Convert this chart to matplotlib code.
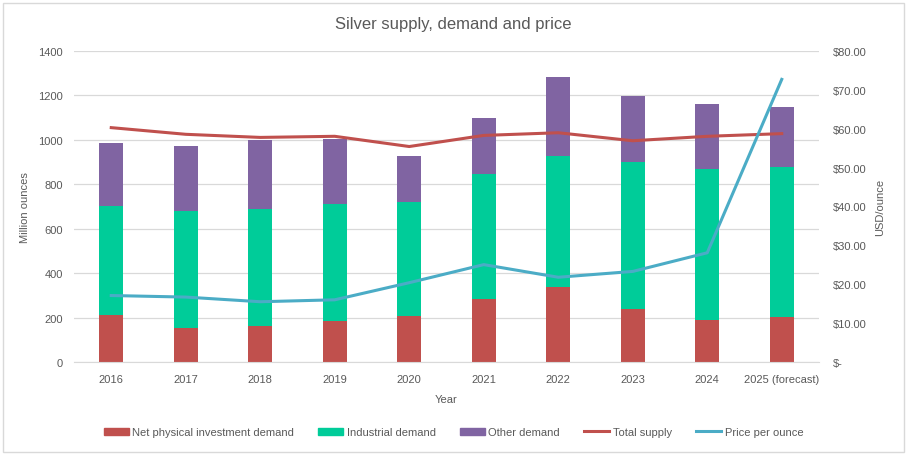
import matplotlib.pyplot as plt
import matplotlib.patches as mpatches
from matplotlib.lines import Line2D
from matplotlib.ticker import FuncFormatter

plt.rcParams['font.family'] = ['Liberation Sans', 'DejaVu Sans']

years = ['2016', '2017', '2018', '2019', '2020', '2021', '2022', '2023', '2024', '2025 (forecast)']
net_investment = [210, 152, 161, 185, 206, 282, 336, 240, 188, 201]
industrial = [491, 526, 527, 525, 513, 563, 590, 659, 679, 675]
other = [287, 293, 312, 294, 207, 252, 356, 297, 293, 271]
total_supply = [1055, 1025, 1011, 1016, 970, 1020, 1032, 996, 1016, 1028]
price = [17.1, 16.7, 15.5, 16.0, 20.4, 25.05, 21.8, 23.3, 28.1, 72.7]

c_red = '#C0504D'
c_green = '#00CC99'
c_purple = '#8064A2'
c_blue = '#4BACC6'
c_text = '#595959'
c_grid = '#D9D9D9'

fig = plt.figure(figsize=(9.07, 4.56), dpi=100)
ax = fig.add_axes([74 / 907, 93 / 456, 745 / 907, 311 / 456])
ax2 = ax.twinx()

x = list(range(len(years)))
w = 0.32
bottom2 = [a + b for a, b in zip(net_investment, industrial)]
ax.bar(x, net_investment, w, color=c_red, zorder=2)
ax.bar(x, industrial, w, bottom=net_investment, color=c_green, zorder=2)
ax.bar(x, other, w, bottom=bottom2, color=c_purple, zorder=2)
ax.plot(x, total_supply, color=c_red, lw=2.2, zorder=3)

ax2.plot(x, price, color=c_blue, lw=2.2, zorder=3)

ax.set_xlim(-0.5, len(years) - 0.5)
ax.set_ylim(0, 1400)
ax.set_yticks(range(0, 1401, 200))
ax2.set_ylim(0, 80)
ax2.set_yticks(range(0, 81, 10))
ax2.yaxis.set_major_formatter(FuncFormatter(lambda v, p: '$-' if v == 0 else f'${v:.2f}'))

ax.set_xticks(x)
ax.set_xticklabels(years)
ax.grid(axis='y', color=c_grid, lw=0.9, zorder=0)
ax.set_axisbelow(True)
for a in (ax, ax2):
    for s in a.spines.values():
        s.set_visible(False)
    a.tick_params(length=0, labelsize=8, colors=c_text)
ax.spines['bottom'].set_visible(True)
ax.spines['bottom'].set_color(c_grid)
ax.tick_params(axis='x', pad=9)
ax.tick_params(axis='y', pad=8)
ax2.tick_params(axis='y', pad=10)

ax.set_xlabel('Year', fontsize=8, color=c_text, labelpad=7)
ax.set_ylabel('Million ounces', fontsize=8, color=c_text, labelpad=6)
ax2.set_ylabel('USD/ounce', fontsize=8, color=c_text, labelpad=6)

fig.text(0.5, 1 - 25 / 456, 'Silver supply, demand and price', ha='center', va='center',
         fontsize=12, color=c_text)

handles = [
    mpatches.Patch(color=c_red, label='Net physical investment demand'),
    mpatches.Patch(color=c_green, label='Industrial demand'),
    mpatches.Patch(color=c_purple, label='Other demand'),
    Line2D([0], [0], color=c_red, lw=2.2, label='Total supply'),
    Line2D([0], [0], color=c_blue, lw=2.2, label='Price per ounce'),
]
leg = fig.legend(handles=handles, loc='center', bbox_to_anchor=(0.5, 1 - 433 / 456), ncol=5,
                 frameon=False, fontsize=8, handlelength=2.25, handleheight=0.6,
                 columnspacing=2.2, handletextpad=0.3)
for t in leg.get_texts():
    t.set_color(c_text)

fig.patches.append(mpatches.Rectangle((3 / 907, 3 / 456), 901 / 907, 449 / 456, fill=False,
                                      edgecolor='#D9D9D9', lw=1, transform=fig.transFigure))

fig.savefig('out.png', dpi=100)
